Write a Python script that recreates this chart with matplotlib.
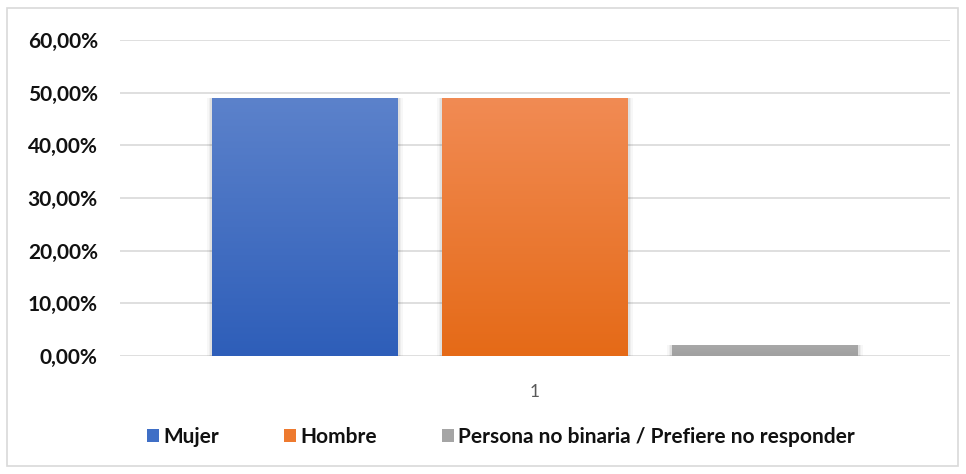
import numpy as np
import matplotlib
matplotlib.use("Agg")
import matplotlib.pyplot as plt
from matplotlib.patches import Rectangle
from matplotlib.colors import LinearSegmentedColormap
from matplotlib.ticker import FuncFormatter

categories = ["1"]
series = ["Mujer", "Hombre", "Persona no binaria / Prefiere no responder"]
values = [49.0, 49.0, 2.0]
yticks = [0, 10, 20, 30, 40, 50, 60]
top_colors = ["#5C82CB", "#F18B54", "#A8A8A8"]
bot_colors = ["#2E5EB9", "#E56A17", "#A0A0A0"]
legend_colors = ["#3F6FC6", "#EE7A2F", "#A5A5A5"]

plt.rcParams['font.family'] = ['Lato', 'DejaVu Sans']

fig = plt.figure(figsize=(9.66, 4.74), dpi=100)
fig.patch.set_facecolor("white")
fig.add_artist(Rectangle((7/966, 8/474), 951/966, 458/474, transform=fig.transFigure,
                         fill=False, edgecolor="#D9D9D9", linewidth=1.2))

ax = fig.add_axes([120/966, 1-356/474, 830/966, (356-40)/474])
ax.set_xlim(0.5, 1.5)
ax.set_ylim(0, 60)
ax.set_yticks(yticks)
ax.yaxis.set_major_formatter(FuncFormatter(lambda v, p: f"{v:.2f}".replace(".", ",") + "%"))
ax.tick_params(axis="y", length=0, pad=16, labelsize=15, labelcolor="#111111")
ax.tick_params(axis="x", length=0, pad=20, labelsize=12.5, labelcolor="#595959")
ax.set_xticks([1])
ax.set_xticklabels(categories)
for t in ax.get_yticklabels():
    t.set_fontweight("bold")
ax.grid(axis="y", color="#D9D9D9", linewidth=1.2)
ax.set_axisbelow(True)
for s in ax.spines.values():
    s.set_visible(False)

width = 0.224
offsets = [-0.277, 0.0, 0.277]
for i, (name, v) in enumerate(zip(series, values)):
    x0 = 1 + offsets[i] - width / 2
    for k, a in enumerate([0.05, 0.04, 0.03]):
        d = 0.002 * (k + 1)
        ax.add_patch(Rectangle((x0 - d, -0.4 * (k + 1)), width + 2 * d, v + 0.4 * (k + 1),
                               facecolor="black", alpha=a, edgecolor="none", zorder=2))
    bar = ax.bar(1 + offsets[i], v, width=width, color=legend_colors[i], label=name,
                 zorder=3, edgecolor="none")[0]
    cmap = LinearSegmentedColormap.from_list("g", [bot_colors[i], top_colors[i]])
    grad = np.linspace(0, 1, 256).reshape(-1, 1)
    im = ax.imshow(grad, cmap=cmap, origin="lower", aspect="auto",
                   extent=(x0, x0 + width, 0, v), zorder=4)
    im.set_clip_path(bar)
ax.set_xlim(0.5, 1.5)
ax.set_ylim(0, 60)

leg = fig.legend(*ax.get_legend_handles_labels(), loc="center", bbox_to_anchor=(501/966, 1-437/474),
                 ncol=3, frameon=False, handlelength=0.6, handleheight=0.6, handletextpad=0.2,
                 columnspacing=3.1, prop={"weight": "bold", "size": 15})
for t in leg.get_texts():
    t.set_color("#111111")

fig.savefig("out.png", dpi=100, facecolor="white")
